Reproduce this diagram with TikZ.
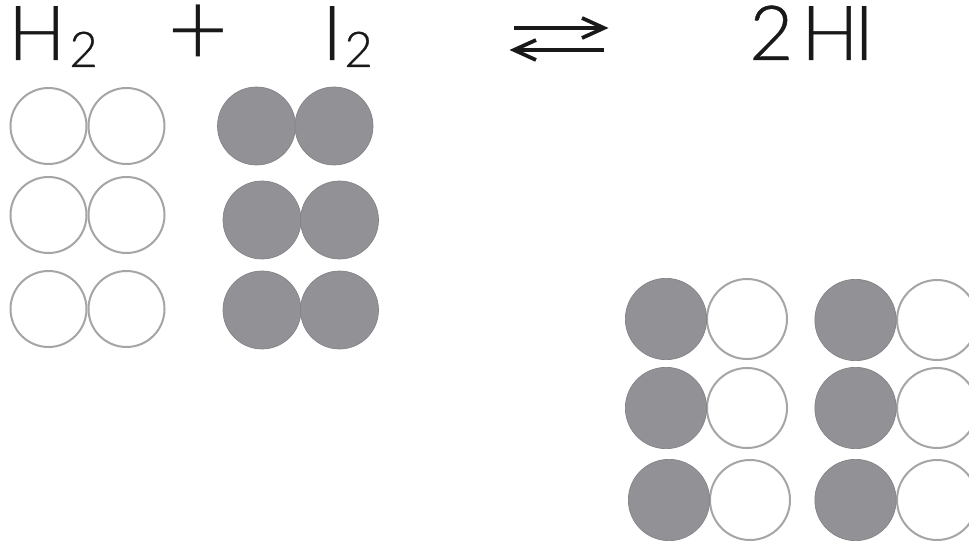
\documentclass[tikz,border=0pt]{standalone}
\usepackage{fontspec}
\setmainfont[FakeBold=0.6]{Lato Light}
\newfontfamily\plusfont{Lato Light}
\definecolor{atomgray}{RGB}{145,145,150}
\definecolor{ringgray}{RGB}{165,165,165}
\tikzset{
  x=0.75pt,y=-0.75pt,
  darkatom/.style={circle,fill=atomgray,draw=atomgray!90!black,line width=0.5pt,minimum size=58.5pt,inner sep=0pt},
  lightatom/.style={circle,fill=white,draw=ringgray,line width=1.5pt,minimum size=57pt,inner sep=0pt},
  darkatomb/.style={darkatom,minimum size=61pt},
  lightatomb/.style={lightatom,minimum size=60pt},
  formula/.style={anchor=base west,inner sep=0pt,text=black!90,font=\fontsize{57}{57}\selectfont},
  subs/.style={anchor=base west,inner sep=0pt,text=black!90,font=\fontsize{37}{37}\selectfont},
  arrowline/.style={line width=2.8pt,draw=black!90},
}
\begin{document}
\begin{tikzpicture}
\useasboundingbox (0,0) rectangle (969,541);
\clip (0,0) rectangle (969,541);
% reactants
\foreach \n/\y in {a/126,b/215,c/309}{
  \node[lightatom] (h\n1) at (48.5,\y) {};
  \node[lightatom] (h\n2) at (126.5,\y) {};
}
\node[darkatom] (ia1) at (256.5,126) {};
\node[darkatom] (ia2) at (334,126) {};
\node[darkatom] (ib1) at (262,220) {};
\node[darkatom] (ib2) at (339.5,220) {};
\node[darkatom] (ic1) at (262,310) {};
\node[darkatom] (ic2) at (339.5,310) {};
% products
\foreach \n/\xa/\xb/\y in {a/666/747/319,b/666/747/408,c/669/750/500}{
  \node[lightatomb] (wl\n) at (\xb,\y) {};
  \node[darkatomb] (gl\n) at (\xa,\y) {};
}
\foreach \n/\y in {a/320,b/408,c/500}{
  \node[lightatomb] (wr\n) at (937,\y) {};
  \node[darkatomb] (gr\n) at (855.5,\y) {};
}
% formula
\node[formula] (h) at (8,60) {H};
\node[subs] (hs) at (69,67) {2};
\node[formula,anchor=center,font=\plusfont\fontsize{57}{57}\selectfont] (plus) at (198,36) {\scalebox{1.4}{+}};
\node[formula] (i) at (322,60) {I};
\node[subs] (is) at (344,67) {2};
\node[formula] (two) at (749,60) {2};
\node[formula] (hh) at (801,60) {H};
\node[formula] (ii) at (854,60) {I};
% arrows
\coordinate (fa) at (514,28);
\coordinate (fb) at (604,28);
\coordinate (fc) at (582,18);
\coordinate (fd) at (582,38);
\coordinate (ra) at (604,50);
\coordinate (rb) at (514,50);
\coordinate (rc) at (536,40);
\coordinate (rd) at (536,60);
\draw[arrowline] (fa) -- (fb);
\draw[arrowline] (fc) -- (fb) -- (fd);
\draw[arrowline] (ra) -- (rb);
\draw[arrowline] (rc) -- (rb) -- (rd);
\end{tikzpicture}
\end{document}
